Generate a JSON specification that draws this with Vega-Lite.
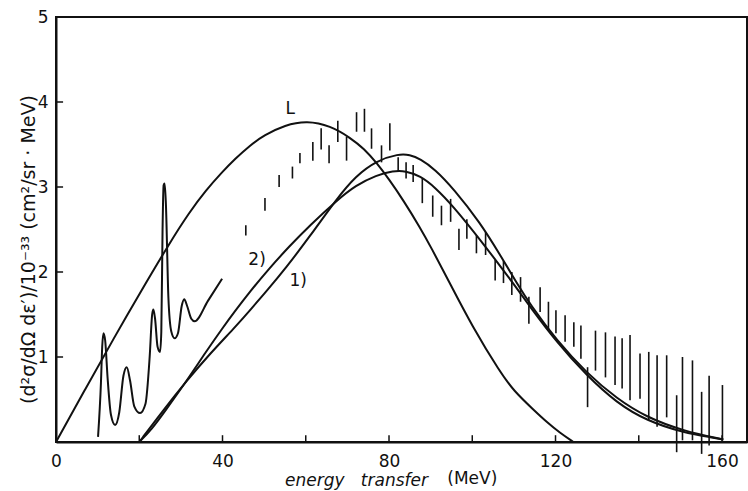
{
  "$schema": "https://vega.github.io/schema/vega-lite/v6.json",
  "width": 691,
  "height": 425,
  "autosize": {"type": "none"},
  "padding": {"left": 56, "top": 17, "right": 1, "bottom": 49},
  "background": "white",
  "datasets": {
    "smooth": [
      {"E": 0, "v": 0, "c": "L"}, {"E": 7, "v": 0.62, "c": "L"}, {"E": 14, "v": 1.23, "c": "L"},
      {"E": 20, "v": 1.74, "c": "L"}, {"E": 27.4, "v": 2.35, "c": "L"}, {"E": 32, "v": 2.7, "c": "L"},
      {"E": 36, "v": 2.96, "c": "L"}, {"E": 40, "v": 3.18, "c": "L"}, {"E": 43, "v": 3.33, "c": "L"},
      {"E": 46.6, "v": 3.49, "c": "L"}, {"E": 50, "v": 3.61, "c": "L"}, {"E": 55, "v": 3.73, "c": "L"},
      {"E": 60.3, "v": 3.78, "c": "L"}, {"E": 65.9, "v": 3.72, "c": "L"}, {"E": 70.7, "v": 3.58, "c": "L"},
      {"E": 74, "v": 3.45, "c": "L"}, {"E": 77.1, "v": 3.28, "c": "L"}, {"E": 80, "v": 3.09, "c": "L"},
      {"E": 83.5, "v": 2.84, "c": "L"}, {"E": 87.5, "v": 2.52, "c": "L"}, {"E": 90, "v": 2.3, "c": "L"},
      {"E": 94.7, "v": 1.86, "c": "L"}, {"E": 100, "v": 1.36, "c": "L"}, {"E": 106.7, "v": 0.82, "c": "L"},
      {"E": 110, "v": 0.6, "c": "L"}, {"E": 114.7, "v": 0.38, "c": "L"}, {"E": 118, "v": 0.23, "c": "L"},
      {"E": 121, "v": 0.11, "c": "L"}, {"E": 124.3, "v": 0.0, "c": "L"},

      {"E": 20, "v": 0, "c": "1"}, {"E": 25.7, "v": 0.37, "c": "1"}, {"E": 31.4, "v": 0.72, "c": "1"},
      {"E": 37, "v": 1.04, "c": "1"}, {"E": 43, "v": 1.35, "c": "1"}, {"E": 46.6, "v": 1.55, "c": "1"},
      {"E": 51, "v": 1.8, "c": "1"}, {"E": 55.1, "v": 2.04, "c": "1"}, {"E": 61, "v": 2.42, "c": "1"},
      {"E": 67.4, "v": 2.86, "c": "1"}, {"E": 72, "v": 3.13, "c": "1"}, {"E": 77, "v": 3.31, "c": "1"},
      {"E": 82.3, "v": 3.39, "c": "1"}, {"E": 85, "v": 3.38, "c": "1"}, {"E": 87.5, "v": 3.33, "c": "1"},
      {"E": 91, "v": 3.21, "c": "1"}, {"E": 95.5, "v": 2.98, "c": "1"}, {"E": 101.9, "v": 2.58, "c": "1"},
      {"E": 106.7, "v": 2.2, "c": "1"}, {"E": 110.7, "v": 1.87, "c": "1"}, {"E": 113.9, "v": 1.62, "c": "1"},
      {"E": 120.2, "v": 1.2, "c": "1"}, {"E": 127.5, "v": 0.81, "c": "1"}, {"E": 134.7, "v": 0.51, "c": "1"},
      {"E": 141.9, "v": 0.29, "c": "1"}, {"E": 150.7, "v": 0.13, "c": "1"}, {"E": 160.3, "v": 0.03, "c": "1"},

      {"E": 20, "v": 0, "c": "2"}, {"E": 23, "v": 0.15, "c": "2"}, {"E": 26, "v": 0.35, "c": "2"},
      {"E": 31.4, "v": 0.72, "c": "2"}, {"E": 36, "v": 1.06, "c": "2"}, {"E": 40, "v": 1.34, "c": "2"},
      {"E": 43, "v": 1.54, "c": "2"}, {"E": 46.6, "v": 1.77, "c": "2"}, {"E": 51, "v": 2.03, "c": "2"},
      {"E": 56, "v": 2.3, "c": "2"}, {"E": 61, "v": 2.55, "c": "2"}, {"E": 67.4, "v": 2.84, "c": "2"},
      {"E": 72, "v": 3.02, "c": "2"}, {"E": 77, "v": 3.14, "c": "2"}, {"E": 81, "v": 3.19, "c": "2"},
      {"E": 84, "v": 3.19, "c": "2"}, {"E": 87.5, "v": 3.13, "c": "2"}, {"E": 91, "v": 3.0, "c": "2"},
      {"E": 95.5, "v": 2.77, "c": "2"}, {"E": 101.9, "v": 2.38, "c": "2"}, {"E": 106.7, "v": 2.07, "c": "2"},
      {"E": 110.7, "v": 1.81, "c": "2"}, {"E": 113.9, "v": 1.59, "c": "2"}, {"E": 120.2, "v": 1.18, "c": "2"},
      {"E": 127.5, "v": 0.78, "c": "2"}, {"E": 134.7, "v": 0.46, "c": "2"}, {"E": 141.9, "v": 0.25, "c": "2"},
      {"E": 150.7, "v": 0.11, "c": "2"}, {"E": 158, "v": 0.05, "c": "2"}, {"E": 160.3, "v": 0.03, "c": "2"}
    ],
    "res": [
      {"E": 10.1, "v": 0.06}, {"E": 10.8, "v": 0.7}, {"E": 11.1, "v": 1.12},
      {"E": 11.4, "v": 1.28}, {"E": 11.8, "v": 1.2}, {"E": 12.4, "v": 0.75},
      {"E": 13.2, "v": 0.32}, {"E": 14.2, "v": 0.2}, {"E": 15.2, "v": 0.35},
      {"E": 16.2, "v": 0.78}, {"E": 17.0, "v": 0.88}, {"E": 17.8, "v": 0.72},
      {"E": 18.8, "v": 0.42}, {"E": 20.2, "v": 0.34}, {"E": 21.5, "v": 0.45},
      {"E": 22.5, "v": 1.0}, {"E": 23.1, "v": 1.5}, {"E": 23.4, "v": 1.56},
      {"E": 23.8, "v": 1.45}, {"E": 24.4, "v": 1.12}, {"E": 25.0, "v": 1.06},
      {"E": 25.3, "v": 1.3}, {"E": 25.6, "v": 2.5}, {"E": 25.85, "v": 3.02},
      {"E": 26.1, "v": 3.04}, {"E": 26.4, "v": 2.8}, {"E": 27.0, "v": 1.7},
      {"E": 27.7, "v": 1.3}, {"E": 28.5, "v": 1.22}, {"E": 29.3, "v": 1.28},
      {"E": 30.2, "v": 1.6}, {"E": 30.8, "v": 1.68}, {"E": 31.5, "v": 1.6},
      {"E": 32.5, "v": 1.45}, {"E": 33.3, "v": 1.42}, {"E": 36.5, "v": 1.66},
      {"E": 39.9, "v": 1.92}
    ],
    "bars": [
      {"E": 45.6, "lo": 2.43, "hi": 2.55}, {"E": 50.2, "lo": 2.72, "hi": 2.87}, {"E": 53.6, "lo": 3.0, "hi": 3.14},
      {"E": 56.8, "lo": 3.1, "hi": 3.24}, {"E": 58.6, "lo": 3.28, "hi": 3.4}, {"E": 61.7, "lo": 3.31, "hi": 3.53},
      {"E": 63.7, "lo": 3.44, "hi": 3.69}, {"E": 65.6, "lo": 3.28, "hi": 3.49}, {"E": 67.7, "lo": 3.53, "hi": 3.78},
      {"E": 69.8, "lo": 3.31, "hi": 3.59}, {"E": 72.2, "lo": 3.65, "hi": 3.88}, {"E": 74.1, "lo": 3.65, "hi": 3.92},
      {"E": 75.8, "lo": 3.45, "hi": 3.69}, {"E": 78.2, "lo": 3.29, "hi": 3.49}, {"E": 80.2, "lo": 3.43, "hi": 3.75},
      {"E": 82.2, "lo": 3.18, "hi": 3.35}, {"E": 84.1, "lo": 3.1, "hi": 3.29}, {"E": 85.8, "lo": 3.06, "hi": 3.26},
      {"E": 88.0, "lo": 2.81, "hi": 3.1}, {"E": 90.5, "lo": 2.65, "hi": 2.9}, {"E": 92.6, "lo": 2.55, "hi": 2.78},
      {"E": 94.8, "lo": 2.59, "hi": 2.86}, {"E": 96.8, "lo": 2.26, "hi": 2.51}, {"E": 98.7, "lo": 2.39, "hi": 2.62},
      {"E": 101.0, "lo": 2.22, "hi": 2.43}, {"E": 103.2, "lo": 2.2, "hi": 2.47}, {"E": 105.5, "lo": 1.9, "hi": 2.14},
      {"E": 107.5, "lo": 1.87, "hi": 2.13}, {"E": 109.5, "lo": 1.73, "hi": 2.0}, {"E": 111.6, "lo": 1.65, "hi": 1.94},
      {"E": 113.6, "lo": 1.39, "hi": 1.71}, {"E": 116.3, "lo": 1.53, "hi": 1.82}, {"E": 118.3, "lo": 1.33, "hi": 1.65},
      {"E": 120.1, "lo": 1.28, "hi": 1.55}, {"E": 122.3, "lo": 1.18, "hi": 1.49}, {"E": 124.4, "lo": 1.12, "hi": 1.41},
      {"E": 126.1, "lo": 0.98, "hi": 1.37}, {"E": 127.7, "lo": 0.41, "hi": 0.88}, {"E": 129.6, "lo": 0.84, "hi": 1.31},
      {"E": 132.0, "lo": 0.76, "hi": 1.29}, {"E": 134.3, "lo": 0.67, "hi": 1.24}, {"E": 136.0, "lo": 0.63, "hi": 1.22},
      {"E": 137.9, "lo": 0.49, "hi": 1.26}, {"E": 140.3, "lo": 0.51, "hi": 1.04}, {"E": 142.4, "lo": 0.26, "hi": 1.06},
      {"E": 144.4, "lo": 0.18, "hi": 1.02}, {"E": 146.7, "lo": 0.29, "hi": 1.02}, {"E": 149.1, "lo": -0.12, "hi": 0.55},
      {"E": 150.5, "lo": 0.02, "hi": 1.0}, {"E": 152.9, "lo": 0.02, "hi": 0.96}, {"E": 155.1, "lo": -0.14, "hi": 0.59},
      {"E": 156.9, "lo": -0.04, "hi": 0.78}, {"E": 160.1, "lo": 0.02, "hi": 0.67}
    ],
    "xticks": [
      {"E": 20, "lo": 0, "hi": 0.08}, {"E": 40, "lo": 0, "hi": 0.08}, {"E": 60, "lo": 0, "hi": 0.08},
      {"E": 80, "lo": 0, "hi": 0.08}, {"E": 100, "lo": 0, "hi": 0.08}, {"E": 120, "lo": 0, "hi": 0.08},
      {"E": 140, "lo": 0, "hi": 0.08}, {"E": 160, "lo": 0, "hi": 0.08}
    ],
    "yticks": [
      {"v": 1, "a": 0, "b": 1.7}, {"v": 2, "a": 0, "b": 1.7}, {"v": 3, "a": 0, "b": 1.7},
      {"v": 4, "a": 0, "b": 1.7}
    ],
    "labels": [
      {"E": 56.3, "v": 3.92, "t": "L"},
      {"E": 48.3, "v": 2.14, "t": "2)"},
      {"E": 58.2, "v": 1.9, "t": "1)"},
      {"E": 100, "v": -0.43, "t": "(MeV)"}
    ]
  },
  "layer": [
    {
      "data": {"name": "bars"},
      "mark": {"type": "rule", "color": "#111", "strokeWidth": 1.6},
      "encoding": {
        "x": {"field": "E", "type": "quantitative"},
        "y": {"field": "lo", "type": "quantitative"},
        "y2": {"field": "hi"}
      }
    },
    {
      "data": {"name": "xticks"},
      "mark": {"type": "rule", "color": "#111", "strokeWidth": 1.5},
      "encoding": {
        "x": {"field": "E", "type": "quantitative"},
        "y": {"field": "lo", "type": "quantitative"},
        "y2": {"field": "hi"}
      }
    },
    {
      "data": {"name": "yticks"},
      "mark": {"type": "rule", "color": "#111", "strokeWidth": 1.5},
      "encoding": {
        "x": {"field": "a", "type": "quantitative"},
        "x2": {"field": "b"},
        "y": {"field": "v", "type": "quantitative"}
      }
    },
    {
      "data": {"name": "smooth"},
      "mark": {"type": "line", "color": "#111", "strokeWidth": 2, "interpolate": "basis"},
      "encoding": {
        "x": {
          "field": "E",
          "type": "quantitative",
          "scale": {"domain": [0, 166], "nice": false, "zero": false},
          "axis": {
            "values": [0, 40, 80, 120, 160],
            "grid": false,
            "ticks": false,
            "labelPadding": 11,
            "title": "energy\u00a0\u00a0\u00a0transfer",
            "titleFontStyle": "italic",
            "titleX": 300,
            "titleY": 38,
            "titleBaseline": "middle"
          }
        },
        "y": {
          "field": "v",
          "type": "quantitative",
          "scale": {"domain": [0, 5], "nice": false},
          "axis": {
            "values": [1, 2, 3, 4, 5],
            "format": "d",
            "grid": false,
            "ticks": false,
            "labelPadding": 8,
            "title": "(d²σ/dΩ dε′)/10⁻³³ (cm²/sr · MeV)",
            "titleFontSize": 19,
            "titleX": -28,
            "titleY": 232,
            "titleAngle": 270,
            "titleAlign": "center",
            "titleBaseline": "middle"
          }
        },
        "detail": {"field": "c"}
      }
    },
    {
      "data": {"name": "res"},
      "mark": {"type": "line", "color": "#111", "strokeWidth": 2, "interpolate": "monotone"},
      "encoding": {
        "x": {"field": "E", "type": "quantitative"},
        "y": {"field": "v", "type": "quantitative"}
      }
    },
    {
      "data": {"name": "labels"},
      "mark": {"type": "text", "font": "DejaVu Sans", "fontSize": 17, "color": "#111"},
      "encoding": {
        "x": {"field": "E", "type": "quantitative"},
        "y": {"field": "v", "type": "quantitative"},
        "text": {"field": "t"}
      }
    }
  ],
  "config": {
    "view": {"stroke": "#111", "strokeWidth": 2},
    "axis": {
      "labelFont": "DejaVu Sans",
      "titleFont": "DejaVu Sans",
      "labelFontSize": 17,
      "titleFontSize": 17,
      "titleFontWeight": "normal",
      "labelColor": "#111",
      "titleColor": "#111",
      "domainColor": "#111",
      "domainWidth": 2,
      "labelFlush": false,
      "labelOverlap": false
    }
  }
}
